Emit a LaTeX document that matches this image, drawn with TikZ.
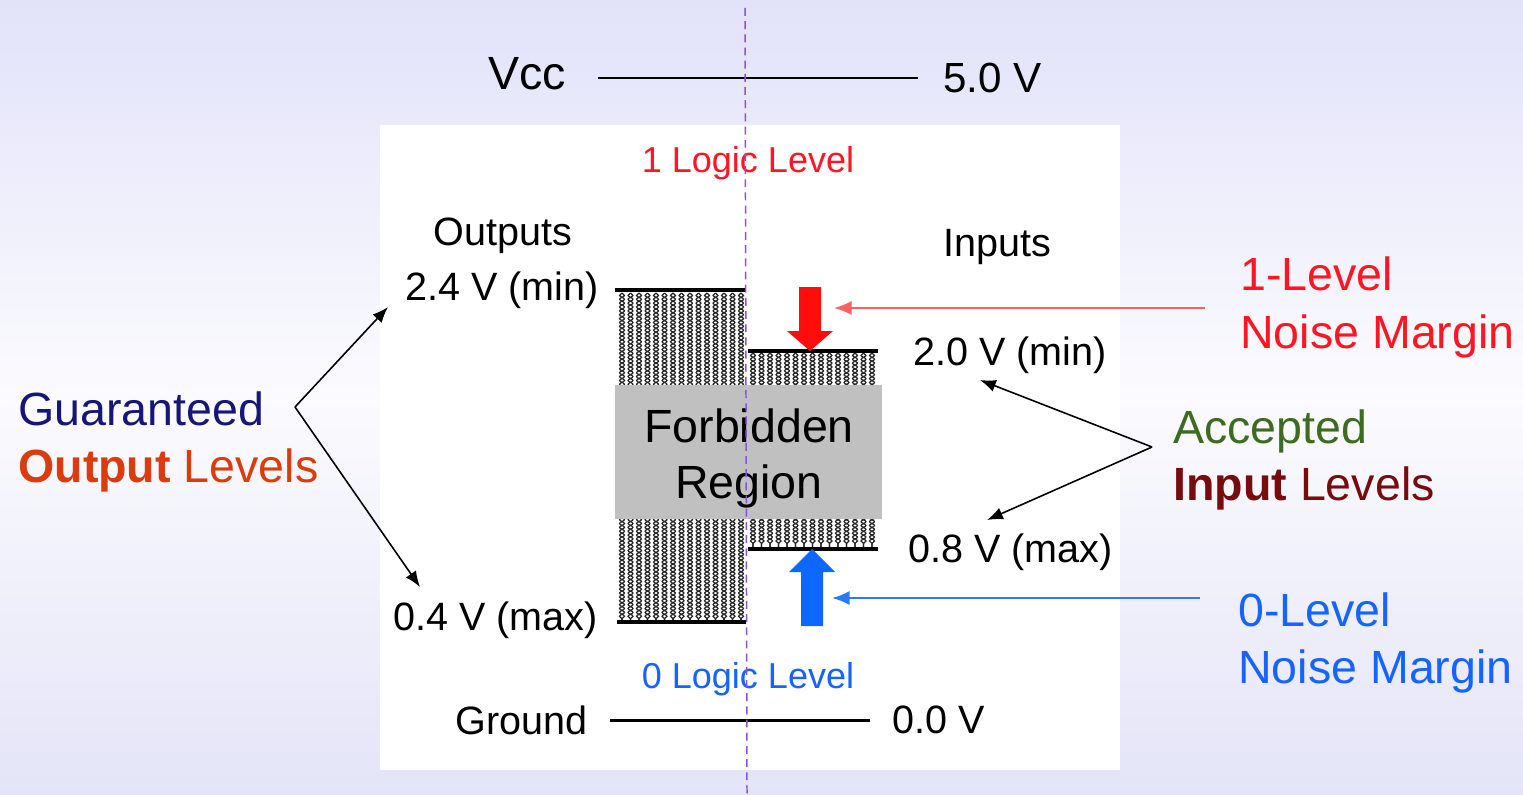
\documentclass[tikz,border=0pt]{standalone}
\usepackage{fontspec}
\setmainfont{Liberation Sans}
\usepackage{xcolor}
\usepackage{tikz}
\usetikzlibrary{arrows.meta,positioning,decorations.pathmorphing}

\definecolor{bgtop}{RGB}{226,226,250}
\definecolor{bgmid}{RGB}{251,251,254}
\definecolor{bgbot}{RGB}{228,228,248}
\definecolor{navyG}{RGB}{22,22,120}
\definecolor{outRed}{RGB}{218,60,14}
\definecolor{accGreen}{RGB}{62,108,30}
\definecolor{inMaroon}{RGB}{120,12,12}
\definecolor{nmRed}{RGB}{255,22,34}
\definecolor{nmBlue}{RGB}{22,100,255}
\definecolor{thinRed}{RGB}{255,96,96}
\definecolor{thinBlue}{RGB}{44,120,255}
\definecolor{fatRed}{RGB}{255,12,12}
\definecolor{fatBlue}{RGB}{12,104,255}
\definecolor{forbid}{RGB}{192,192,192}
\definecolor{midline}{RGB}{140,80,220}

\begin{document}
\begin{tikzpicture}[x=0.02cm,y=-0.02cm,>={Latex[length=9pt,width=7pt]},
  lvl/.style={line width=2.3pt,line cap=butt},
  rail/.style={line width=1.7pt},
  txt/.style={inner sep=0pt,font=\fontsize{22.5}{27}\selectfont},
  big/.style={inner sep=0pt,font=\fontsize{26.5}{32}\selectfont},
  chainA/.style={draw=black!85,line width=0.7pt,decorate,decoration={snake,segment length=4.4pt,amplitude=1.4pt}},
  chainB/.style={chainA,decoration={amplitude=-1.4pt}},
  note/.style={->,line width=0.9pt},
  margin/.style={->,line width=1.1pt,>={Latex[length=10pt,width=8pt]}}]
\useasboundingbox (0,0) rectangle (1523,794);
\shade[top color=bgtop,bottom color=bgbot,middle color=bgmid] (0,0) rectangle (1523,794);
\fill[white] (380,125) rectangle (1120,770);

% supply rails
\coordinate (vccL) at (598,78); \coordinate (vccR) at (918,78);
\coordinate (gndL) at (610,720); \coordinate (gndR) at (870,720);
\draw[rail] (vccL) -- (vccR);
\draw[rail] (gndL) -- (gndR);
\node[big,anchor=base east] (vcc) at (566,90) {Vcc};
\node[txt,font=\fontsize{24}{28}\selectfont,anchor=base west] (v50) at (943,92) {5.0 V};
\node[txt,anchor=base east] (gnd) at (588,734) {Ground};
\node[txt,anchor=base west] (v00) at (892,733) {0.0 V};

% hatched bands
\foreach \x in {622,630.5,...,742} {\draw[chainA] (\x,293) -- (\x,620); \draw[chainB] (\x,293) -- (\x,620);}
\foreach \x in {753,761.5,...,874} {\draw[chainA] (\x,353) -- (\x,547); \draw[chainB] (\x,353) -- (\x,547);}
\fill[forbid] (615,385) rectangle (882,519);
\draw[lvl] (615,290) -- (746,290);
\draw[lvl] (617,622) -- (746,622);
\draw[lvl] (748,351) -- (878,351);
\draw[lvl] (748,549) -- (878,549);
\node[big,anchor=base] (forb) at (749,442) {Forbidden};
\node[big,anchor=base] (regn) at (749,498) {Region};

% level labels
\node[txt,font=\fontsize{20.5}{24}\selectfont,text=nmRed,anchor=base] (log1) at (748,172) {1 Logic Level};
\node[txt,font=\fontsize{20.5}{24}\selectfont,text=nmBlue,anchor=base] (log0) at (748,688) {0 Logic Level};
\node[txt,anchor=base] (outs) at (503,245) {Outputs};
\node[txt,anchor=base] (ins) at (997,256) {Inputs};
\node[txt,anchor=base west] (v24) at (405,300) {2.4 V (min)};
\node[txt,anchor=base west] (v04) at (393,630) {0.4 V (max)};
\node[txt,anchor=base west] (v20) at (913,365) {2.0 V (min)};
\node[txt,anchor=base west] (v08) at (908,562) {0.8 V (max)};

% side captions
\node[big,text=navyG,anchor=base west] (guar) at (18,425) {Guaranteed};
\node[big,text=outRed,anchor=base west] (outlv) at (18,482) {\textbf{Output} Levels};
\node[big,text=accGreen,anchor=base west] (acc) at (1173,443) {Accepted};
\node[big,text=inMaroon,anchor=base west] (inlv) at (1173,500) {\textbf{Input} Levels};
\node[big,text=nmRed,anchor=base west] (nm1a) at (1240,290) {1-Level};
\node[big,text=nmRed,anchor=base west] (nm1b) at (1240,348) {Noise Margin};
\node[big,text=nmBlue,anchor=base west] (nm0a) at (1238,626) {0-Level};
\node[big,text=nmBlue,anchor=base west] (nm0b) at (1238,683) {Noise Margin};

% pointers
\coordinate (gapex) at (295,407);
\coordinate (t24) at (388,307); \coordinate (t04) at (420,587);
\coordinate (aapex) at (1152,447);
\coordinate (t20) at (980,380); \coordinate (t08) at (987,520);
\draw[note] (gapex) -- (t24);
\draw[note] (gapex) -- (t04);
\draw[note] (aapex) -- (t20);
\draw[note] (aapex) -- (t08);
\coordinate (nm1tail) at (1205,308); \coordinate (nm1tip) at (834,308);
\coordinate (nm0tail) at (1200,598); \coordinate (nm0tip) at (832,598);
\draw[margin,draw=thinRed,fill=thinRed] (nm1tail) -- (nm1tip);
\draw[margin,draw=thinBlue,fill=thinBlue] (nm0tail) -- (nm0tip);

% fat margin arrows
\fill[fatRed] (799,287) -- (821,287) -- (821,331) -- (833,331) -- (810,351) -- (787,331) -- (799,331) -- cycle;
\fill[fatBlue] (801,626) -- (823,626) -- (823,572) -- (835,572) -- (812,549) -- (789,572) -- (801,572) -- cycle;

% centre line
\draw[midline,line width=0.85pt,dash pattern=on 4.5pt off 3pt] (745,8) -- (747,794);
\end{tikzpicture}
\end{document}
